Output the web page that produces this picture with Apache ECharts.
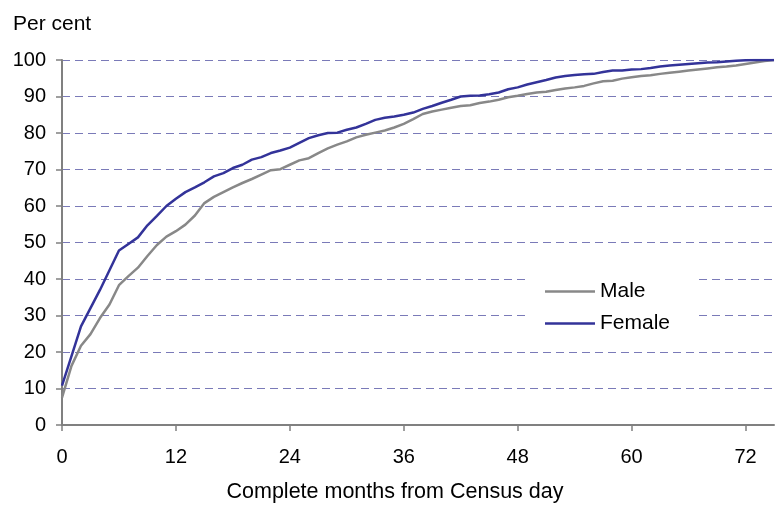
<!DOCTYPE html>
<html>
<head>
<meta charset="utf-8">
<script src="https://cdn.jsdelivr.net/npm/echarts@6/dist/echarts.min.js"></script>
<style>
  html, body { margin: 0; padding: 0; background: #fff; }
  #chart { width: 775px; height: 509px; }
</style>
</head>
<body>
<div id="chart"></div>
<script>
// months 0..75 after Census day
const months = [];
for (let m = 0; m <= 75; m++) months.push(m);

const xTicks = [0, 12, 24, 36, 48, 60, 72];

// cumulative per cent
const male = [
  7.5, 16.2, 21.7, 24.9, 29.3, 33.0, 38.3, 40.8, 43.1, 46.3,
  49.3, 51.6, 53.1, 54.9, 57.4, 60.8, 62.5, 63.8, 65.1, 66.3,
  67.4, 68.6, 69.8, 70.1, 71.3, 72.5, 73.1, 74.5, 75.8, 76.8,
  77.7, 78.8, 79.5, 80.1, 80.7, 81.5, 82.5, 83.8, 85.2, 85.9,
  86.4, 86.9, 87.4, 87.6, 88.2, 88.6, 89.1, 89.8, 90.2, 90.7,
  91.1, 91.3, 91.8, 92.2, 92.5, 92.9, 93.6, 94.2, 94.3, 94.9,
  95.3, 95.6, 95.8, 96.2, 96.5, 96.8, 97.1, 97.4, 97.7, 98.0,
  98.2, 98.5, 98.9, 99.3, 99.7, 100
];
const female = [
  10.8, 18.9, 27.0, 32.0, 37.0, 42.4, 47.8, 49.6, 51.4, 54.7,
  57.3, 60.0, 62.0, 63.8, 65.1, 66.5, 68.1, 69.0, 70.4, 71.3,
  72.7, 73.4, 74.5, 75.2, 76.0, 77.3, 78.6, 79.4, 80.0, 80.1,
  80.9, 81.5, 82.5, 83.6, 84.2, 84.5, 85.0, 85.6, 86.6, 87.4,
  88.3, 89.1, 90.0, 90.2, 90.3, 90.6, 91.1, 92.0, 92.5, 93.3,
  93.9, 94.5, 95.2, 95.6, 95.9, 96.1, 96.2, 96.7, 97.1, 97.1,
  97.4, 97.5, 97.8, 98.2, 98.5, 98.7, 98.9, 99.1, 99.3, 99.4,
  99.6, 99.8, 99.9, 100, 100, 100
];

const font = 'Liberation Sans, Arial, sans-serif';
const chart = echarts.init(document.getElementById('chart'));

chart.setOption({
  animation: false,
  title: {
    text: 'Per cent',
    left: 8,
    top: 9,
    textStyle: { fontFamily: font, fontSize: 21, fontWeight: 'normal', color: '#000' }
  },
  graphic: [{
    type: 'text',
    x: 395,
    y: 481,
    style: {
      text: 'Complete months from Census day',
      font: '21.5px ' + font,
      fill: '#000',
      align: 'center'
    }
  }],
  legend: {
    orient: 'vertical',
    left: 530,
    top: 271,
    padding: [10, 25, 10, 15],
    backgroundColor: '#fff',
    icon: 'rect',
    itemWidth: 50,
    itemHeight: 2.5,
    itemGap: 11,
    textStyle: { fontFamily: font, fontSize: 21, color: '#000' },
    data: ['Male', 'Female']
  },
  grid: { left: 62, right: 1, top: 60, bottom: 84, containLabel: false },
  xAxis: {
    type: 'value',
    min: 0,
    max: 75,
    axisLine: { lineStyle: { color: '#808080', width: 2 } },
    axisTick: { customValues: xTicks, length: 6, lineStyle: { color: '#808080', width: 1.5 } },
    axisLabel: { customValues: xTicks, margin: 22, fontFamily: font, fontSize: 20, color: '#000' },
    splitLine: { show: false }
  },
  yAxis: {
    type: 'value',
    min: 0,
    max: 100,
    interval: 10,
    axisLine: { show: true, lineStyle: { color: '#808080', width: 2 } },
    axisTick: { show: true, length: 6, lineStyle: { color: '#808080', width: 1.5 } },
    axisLabel: { margin: 16, fontFamily: font, fontSize: 20, color: '#000' },
    splitLine: { lineStyle: { color: '#7a7ab8', width: 1, type: [8, 5] } }
  },
  series: [
    {
      name: 'Male',
      type: 'line',
      symbol: 'none',
      data: months.map((m, i) => [m, male[i]]),
      lineStyle: { color: '#888888', width: 2.5 },
      itemStyle: { color: '#888888' }
    },
    {
      name: 'Female',
      type: 'line',
      symbol: 'none',
      data: months.map((m, i) => [m, female[i]]),
      lineStyle: { color: '#333399', width: 2.5 },
      itemStyle: { color: '#333399' }
    }
  ]
});
</script>
</body>
</html>
